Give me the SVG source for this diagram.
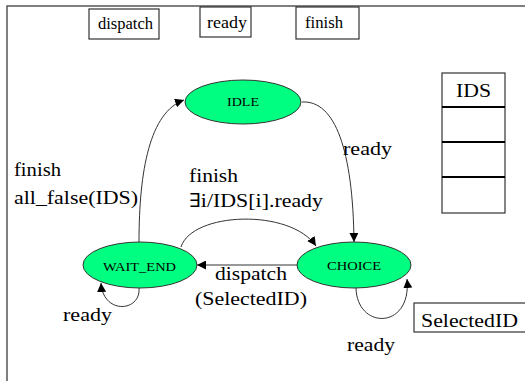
<svg xmlns="http://www.w3.org/2000/svg" width="525" height="381" viewBox="0 0 525 381">
<style>
  .frame{fill:none;stroke:#555;stroke-width:1.5}
  .box{fill:#fff;stroke:#333;stroke-width:1.2}
  .state{fill:#00ff80;stroke:#333;stroke-width:1}
  .sl{font-size:13px}
  .lbl{font-size:19px}
  .hb{font-size:16px}
  .edge{fill:none;stroke:#333;stroke-width:1}
</style>
<defs>
  <marker id="arr" viewBox="0 0 10 10" refX="10" refY="5" markerWidth="9" markerHeight="9" markerUnits="userSpaceOnUse" orient="auto">
    <path d="M0,0 L10,5 L0,10 z" fill="#000"/>
  </marker>
</defs>
<rect width="525" height="381" fill="#fff"/>
<path class="frame" d="M7,381 L7,6 L525,6"/>

<g font-family="Liberation Serif, DejaVu Serif, serif" fill="#000">
<g id="hdr-dispatch"><rect class="box" x="89" y="9" width="70" height="30"/><text class="hb" x="98" y="29" textLength="55" lengthAdjust="spacingAndGlyphs">dispatch</text></g>
<g id="hdr-ready"><rect class="box" x="200" y="7" width="51" height="30"/><text class="hb" x="207" y="28" textLength="40" lengthAdjust="spacingAndGlyphs">ready</text></g>
<g id="hdr-finish"><rect class="box" x="296" y="7" width="63" height="32"/><text class="hb" x="305" y="28" textLength="38" lengthAdjust="spacingAndGlyphs">finish</text></g>

<g id="ids-table">
  <rect class="box" x="442" y="73" width="63" height="140"/>
  <line x1="442" y1="107" x2="505" y2="107" stroke="#000" stroke-width="2"/>
  <line x1="442" y1="142" x2="505" y2="142" stroke="#000" stroke-width="2"/>
  <line x1="442" y1="177" x2="505" y2="177" stroke="#000" stroke-width="2"/>
  <text class="lbl" x="456" y="97" textLength="35" lengthAdjust="spacingAndGlyphs">IDS</text>
</g>

<g id="selectedid"><rect class="box" x="414" y="303" width="115" height="29"/><text class="lbl" x="421" y="327" textLength="97" lengthAdjust="spacingAndGlyphs">SelectedID</text></g>

<g id="connectors">
  <path class="edge" d="M139,242 C139,170 150,112 184,100" marker-end="url(#arr)"/>
  <path class="edge" d="M302,102 C335,100 353,150 354,242" marker-end="url(#arr)"/>
  <path class="edge" d="M181,247 C192,212 290,208 316,246" marker-end="url(#arr)"/>
  <path class="edge" d="M297,265 L197,265" marker-end="url(#arr)"/>
  <path class="edge" d="M139,288 C141,312 103,315 101,283" marker-end="url(#arr)"/>
  <path class="edge" d="M356,288 C357,330 412,330 407,279" marker-end="url(#arr)"/>
</g>

<g id="idle"><ellipse class="state" cx="243" cy="102" rx="58" ry="22"/><text class="sl" x="227" y="106" textLength="32" lengthAdjust="spacingAndGlyphs">IDLE</text></g>
<g id="wait_end"><ellipse class="state" cx="140" cy="265" rx="57" ry="23"/><text class="sl" x="103" y="271" textLength="73" lengthAdjust="spacingAndGlyphs">WAIT_END</text></g>
<g id="choice"><ellipse class="state" cx="354" cy="265" rx="57" ry="23"/><text class="sl" x="327" y="270" textLength="54" lengthAdjust="spacingAndGlyphs">CHOICE</text></g>

<g id="labels">
  <text class="lbl" x="14" y="176" textLength="47" lengthAdjust="spacingAndGlyphs">finish</text>
  <text class="lbl" x="14" y="204" textLength="124" lengthAdjust="spacingAndGlyphs">all_false(IDS)</text>
  <text class="lbl" x="343" y="155" textLength="49" lengthAdjust="spacingAndGlyphs">ready</text>
  <text class="lbl" x="189" y="182" textLength="49" lengthAdjust="spacingAndGlyphs">finish</text>
  <text class="lbl" x="189" y="207" textLength="134" lengthAdjust="spacingAndGlyphs">∃i/IDS[i].ready</text>
  <text class="lbl" x="215" y="280" textLength="72" lengthAdjust="spacingAndGlyphs">dispatch</text>
  <text class="lbl" x="195" y="305" textLength="112" lengthAdjust="spacingAndGlyphs">(SelectedID)</text>
  <text class="lbl" x="63" y="321" textLength="49" lengthAdjust="spacingAndGlyphs">ready</text>
  <text class="lbl" x="347" y="351" textLength="48" lengthAdjust="spacingAndGlyphs">ready</text>
</g>
</g>
</svg>
